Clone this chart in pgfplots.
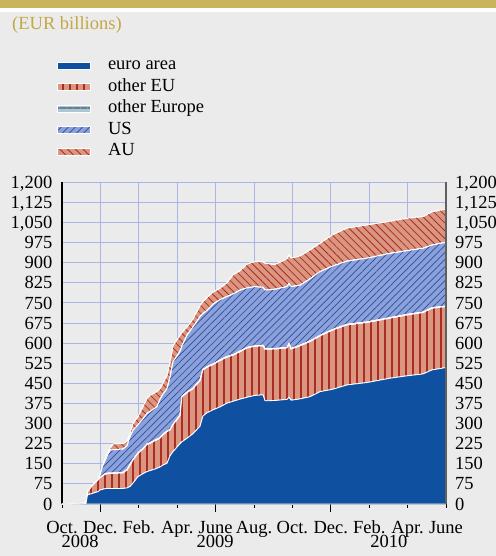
\documentclass[border=0pt]{standalone}
\usepackage{fontspec}
\setmainfont{Liberation Serif}
\usepackage{pgfplots}
\pgfplotsset{compat=1.18}
\usepackage{pgfplotstable}
\usetikzlibrary{patterns.meta}

\definecolor{bg}{RGB}{235,235,235}
\definecolor{gold}{RGB}{200,180,90}
\definecolor{goldtext}{RGB}{195,168,70}
\definecolor{euroblue}{RGB}{15,80,160}
\definecolor{pinkfill}{RGB}{218,150,128}
\definecolor{darkred}{RGB}{170,45,35}
\definecolor{oefill}{RGB}{175,198,208}
\definecolor{oeline}{RGB}{100,130,150}
\definecolor{usfill}{RGB}{140,160,218}
\definecolor{usline}{RGB}{40,80,160}
\definecolor{gridblue}{RGB}{170,180,230}

\newcommand{\fs}{\fontsize{18.5bp}{21bp}\selectfont}

% m = months since Oct. 2008; values in EUR billions (stacked components)
\pgfplotstableread{
m     E    EU   OE  US   AU
0.00  0    0    0   0    0
0.94  1    0    0   0    0
1.09  1    3    0   0    1
1.25  2    3    0   0    1
1.33  34   12   0   0    1
1.61  40   31   0   0    1
1.88  46   44   0   1    1
1.98  52   46   0   12   2
2.14  55   51   2   38   4
2.29  58   54   2   56   10
2.50  58   56   2   85   6
2.66  58   56   2   86   22
3.18  58   58   2   87   21
3.39  60   67   2   89   17
3.54  65   80   2   104  13
3.70  78   86   2   109  25
3.96  102  87   2   104  31
4.22  113  92   2   111  45
4.43  121  101  2   114  57
4.58  124  102  2   117  60
4.95  133  107  2   121  57
5.10  138  107  2   143  40
5.26  145  113  2   150  40
5.47  152  118  2   158  50
5.63  180  96   2   197  55
5.78  195  100  2   233  60
6.15  225  105  2   238  60
6.25  232  168  2   188  50
6.51  245  170  2   213  30
6.82  262  168  2   228  30
7.19  290  170  2   237  41
7.34  328  172  2   208  45
7.55  340  170  2   210  48
7.86  351  169  2   223  45
8.23  362  173  2   225  43
8.59  376  172  2   224  51
8.91  383  172  2   226  72
9.27  391  177  2   228  72
9.64  398  184  2   222  89
10.05 405  183  2   221  94
10.47 407  183  2   216  96
10.57 385  192  2   219  100
11.09 386  192  2   221  92
11.72 390  192  2   227  104
11.82 398  198  2   224  107
11.93 387  191  2   231  107
12.40 392  198  2   224  109
12.92 400  206  2   232  108
13.44 419  208  2   238  106
14.11 428  221  2   237  117
14.84 444  224  2   236  123
15.89 453  224  2   238  124
17.08 469  224  2   240  120
17.97 478  227  2   238  121
18.80 485  229  2   238  118
19.27 500  230  2   234  124
19.69 505  229  2   236  124
20.00 509  227  2   239  123
}\data

\begin{document}
\begin{tikzpicture}
\path[use as bounding box, fill=bg] (0,0) rectangle (496bp,556bp);
\fill[gold] (0,547.7bp) rectangle (496bp,556bp);
\fill[white] (0,544.3bp) rectangle (496bp,547.7bp);
\node[anchor=base west, inner sep=0pt, text=goldtext, font=\fs] at (12bp,526bp) {(EUR billions)};

\begin{axis}[
  at={(62bp,52bp)}, anchor=south west,
  scale only axis, width=384bp, height=321.7bp,
  xmin=0, xmax=20, ymin=0, ymax=1200,
  clip=false,
  stack plots=y,
  axis x line*=bottom, axis y line*=left,
  x axis line style={draw=gray!60, line width=1bp},
  y axis line style={draw=black, line width=1.5bp},
  xtick={0,2,...,20},
  xticklabels={Oct.,Dec.,Feb.,Apr.,June,Aug.,Oct.,Dec.,Feb.,Apr.,June},
  extra x ticks={2,8,14},
  extra x tick labels={},
  extra x tick style={major tick length=8bp, grid=none},
  ytick={0,75,...,1200},
  tick align=outside,
  major tick length=3.5bp,
  xtick style={draw=black, line width=0.8bp},
  ytick style={draw=none},
  grid=major,
  major grid style={draw=gridblue, line width=0.9bp},
  /pgf/number format/1000 sep={,},
  /pgf/number format/assume math mode=true,
  ticklabel style={font=\fs},
  xticklabel style={anchor=base, inner sep=0pt, yshift=-26bp},
  yticklabel style={anchor=east, inner sep=0pt, text height=12.2bp, text depth=0pt, xshift=-6bp},
  legend style={at={(-0.013,1.389)}, anchor=north west, draw=none, fill=none,
    font=\fs, inner sep=0pt, row sep=5bp,
    nodes={inner sep=0pt, text height=12.5bp, text depth=4bp},
    /tikz/every odd column/.append style={column sep=17bp}},
  legend cell align=left,
  legend image code/.code={\path[#1] (0bp,-3.5bp) rectangle (33bp,3.5bp);},
  every axis plot/.append style={draw=white, line width=0.8bp},
]
\addplot[fill=euroblue] table[x=m,y=E]{\data} \closedcycle;
\addplot[fill=pinkfill, postaction={pattern={Lines[angle=90,distance=7bp,line width=1.1bp]}, pattern color=darkred}] table[x=m,y=EU]{\data} \closedcycle;
\addplot[fill=oefill, postaction={pattern={Lines[angle=0,distance=7bp,line width=1.2bp]}, pattern color=oeline}] table[x=m,y=OE]{\data} \closedcycle;
\addplot[fill=usfill, postaction={pattern={Lines[angle=45,distance=5bp,line width=0.7bp]}, pattern color=usline}] table[x=m,y=US]{\data} \closedcycle;
\addplot[fill=pinkfill, postaction={pattern={Lines[angle=-45,distance=5.5bp,line width=0.8bp]}, pattern color=darkred}] table[x=m,y=AU]{\data} \closedcycle;
\legend{euro area, other EU, other Europe, US, AU}
\node[font=\fs, anchor=base, inner sep=0pt, yshift=-43bp] at (axis cs:0.94,0) {2008};
\node[font=\fs, anchor=base, inner sep=0pt, yshift=-43bp] at (axis cs:7.97,0) {2009};
\node[font=\fs, anchor=base, inner sep=0pt, yshift=-43bp] at (axis cs:17.03,0) {2010};
\end{axis}

\begin{axis}[
  at={(62bp,52bp)}, anchor=south west,
  scale only axis, width=384bp, height=321.7bp,
  xmin=0, xmax=20, ymin=0, ymax=1200,
  axis x line=none, axis y line*=right,
  y axis line style={draw=gray!75!black, line width=1.5bp},
  ytick={0,75,...,1200},
  ytick style={draw=none},
  /pgf/number format/1000 sep={,},
  /pgf/number format/assume math mode=true,
  yticklabel style={font=\fs, anchor=west, inner sep=0pt, text height=12.2bp, text depth=0pt, xshift=9bp},
]
\end{axis}
\end{tikzpicture}
\end{document}
